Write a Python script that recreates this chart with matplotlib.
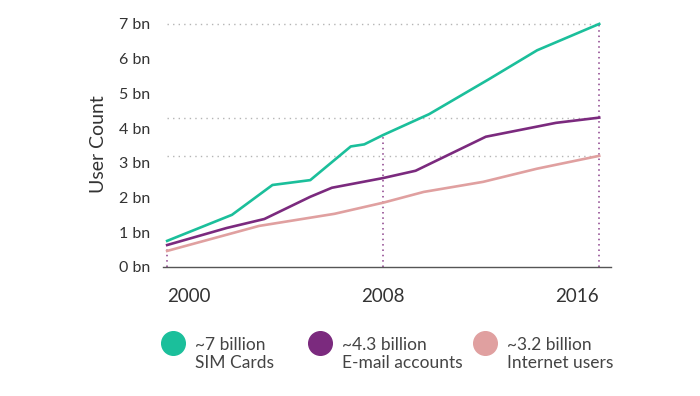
import matplotlib
matplotlib.use("Agg")
import matplotlib.pyplot as plt
from matplotlib.lines import Line2D

plt.rcParams['font.family'] = ['Lato', 'DejaVu Sans']

# data (billions)
sim_years = [2000, 2002.4, 2003.9, 2005.3, 2006.8, 2007.3, 2008, 2009.7, 2011.9, 2013.7, 2016]
sim = [0.75, 1.5, 2.36, 2.5, 3.47, 3.53, 3.8, 4.4, 5.4, 6.24, 7.0]

email_years = [2000, 2002.2, 2003.6, 2005.3, 2006.1, 2008, 2009.2, 2011.8, 2014.4, 2016]
email = [0.63, 1.12, 1.38, 2.02, 2.28, 2.56, 2.77, 3.75, 4.15, 4.3]

internet_years = [2000, 2003.4, 2006.2, 2008, 2009.5, 2011.7, 2013.7, 2016]
internet = [0.46, 1.18, 1.53, 1.85, 2.16, 2.45, 2.83, 3.2]

series_labels = ["~7 billion\nSIM Cards", "~4.3 billion\nE-mail accounts", "~3.2 billion\nInternet users"]
colors = ["#1bbf9b", "#7b2a7e", "#e0a0a0"]

x_ticks = [2000, 2008, 2016]
y_ticks = [0, 1, 2, 3, 4, 5, 6, 7]

fig = plt.figure(figsize=(7, 3.96), dpi=100)
ax = fig.add_axes([0.233, 0.326, 0.64, 0.618])

# dotted guide lines at the end values
ends = [sim[-1], email[-1], internet[-1]]
ax.hlines(ends, 2000, 2016, colors="#b5b5b5", linestyles=(0, (1, 3)), linewidth=1, zorder=1)

# vertical dotted lines at each labelled year, up to the top series
for yr in x_ticks:
    top = max(v for y, v in zip(sim_years, sim) if y == yr)
    ax.vlines(yr, 0, top, colors="#8a3f8a", linestyles=(0, (1, 2.5)), linewidth=1.1, zorder=1)

ax.plot(internet_years, internet, color=colors[2], lw=1.9, zorder=3)
ax.plot(email_years, email, color=colors[1], lw=1.9, zorder=3)
ax.plot(sim_years, sim, color=colors[0], lw=1.9, zorder=3)

ax.set_xlim(1999.85, 2016.44)
ax.set_ylim(0, 7.05)
ax.set_xticks(x_ticks)
ax.set_xticklabels([str(t) for t in x_ticks])
for lab, ha in zip(ax.get_xticklabels(), ["left", "center", "right"]):
    lab.set_ha(ha)
ax.set_yticks(y_ticks)
ax.set_yticklabels([f"{t} bn" for t in y_ticks])
ax.tick_params(axis="x", length=0, pad=15, labelsize=13.5, labelcolor="#333333")
ax.tick_params(axis="y", length=0, pad=9, labelsize=11.5, labelcolor="#333333")
ax.set_ylabel("User Count", fontsize=14, color="#333333", labelpad=9)

for s in ["top", "right", "left"]:
    ax.spines[s].set_visible(False)
ax.spines["bottom"].set_color("#555555")
ax.spines["bottom"].set_linewidth(1)

# legend: circle beside a two-line label, columns placed like the original
leg_x = [0.247, 0.457, 0.693]
for x0, c, lab in zip(leg_x, colors, series_labels):
    fig.add_artist(Line2D([x0], [1 - 343 / 396], marker="o", markersize=17,
                          color=c, linestyle="", transform=fig.transFigure))
    fig.text(x0 + 0.031, 1 - 337 / 396, lab, fontsize=12.5, color="#444444",
             va="top", ha="left", linespacing=1.15)

fig.savefig("out.png", dpi=100)
